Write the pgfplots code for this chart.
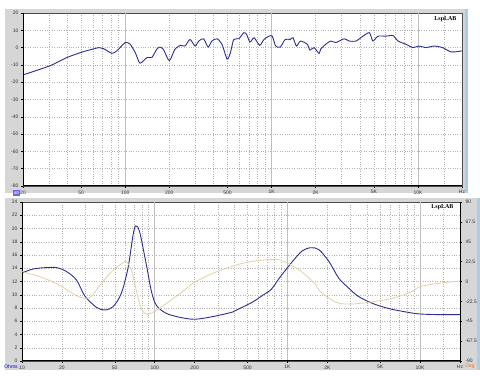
\documentclass[border=0pt]{standalone}
\usepackage{fontspec}
\setmainfont{Liberation Sans}
\newfontfamily\serifb{Liberation Serif}
\usepackage{pgfplots}
\pgfplotsset{compat=1.18}
\definecolor{panel}{RGB}{214,214,214}
\definecolor{zblue}{RGB}{45,45,150}
\definecolor{ptan}{RGB}{226,206,162}
\definecolor{lblue}{RGB}{170,205,232}
\definecolor{dorange}{RGB}{230,120,40}
\pgfplotsset{
 rsbase/.style={
  grid=both,
  major grid style={dotted, black!30},
  minor grid style={dotted, black!30},
  tick style={black, thin},
  major tick length=2pt, minor tick length=1.5pt,
  tick align=outside, xtick pos=bottom, ytick pos=left,
  tick label style={font=\fontsize{5}{6}\selectfont, text=black!80},
  axis background/.style={fill=white},
  axis line style={black!70, thin},
  xticklabel style={yshift=1pt},
  yticklabel style={xshift=1pt},
 }
}
\begin{document}
\begin{tikzpicture}
\useasboundingbox (0pt,0pt) rectangle (480pt,385pt);
\fill[white] (0pt,0pt) rectangle (480pt,385pt);
% panels
\fill[panel] (5pt,192pt) rectangle (465pt,376pt);
\fill[lblue] (465pt,192pt) rectangle (468pt,376pt);
\fill[panel] (5pt,15pt) rectangle (480pt,187pt);
\fill[lblue] (477pt,15pt) rectangle (480pt,187pt);

% ---------- Top: frequency response ----------
\begin{axis}[rsbase, scale only axis, xmode=log,
  /pgf/number format/assume math mode=true,
  at={(23pt,199pt)}, anchor=south west,
  width=439pt, height=173pt,
  xmin=20, xmax=20000, ymin=-80, ymax=20,
  ytick={-80,-70,...,20},
  xtick={20,50,100,200,500,1000,2000,5000,10000,20000},
  xticklabels={20,50,100,200,500,1K,2K,5K,10K,Hz},
  minor xtick={30,40,60,70,80,90,300,400,600,700,800,900,3000,4000,6000,7000,8000,9000,15000},
  extra x ticks={100,1000,10000},
  extra x tick labels={},
  extra x tick style={major grid style={solid, black!25}},
]
\addplot[zblue, line width=0.9pt, smooth, tension=0.4] coordinates {
(20,-15.8)(30.6,-10.5)(40,-5.7)(52,-2.3)(66,0)(71,-0.6)(81,-3.3)(87.5,-1.9)
(100,2.9)(108,1.9)(117,-2.9)(126,-9)(141,-5.7)(152,-5.7)(164,-1)(172,0.3)
(182,-1)(200,-7.6)(218,-1)(238,1.3)(256,0.9)(277,4.7)(300,0.9)(318,3.8)
(343,5.1)(368,0.3)(391,3.8)(424,5.1)(458,1.9)(497,-6.7)(523,-2.9)(551,4.7)
(597,5.1)(646,8.6)(675,7.6)(711,3.2)(759,5.7)(829,1.3)(887,4.7)(958,6.6)
(1010,6.6)(1066,0.9)(1145,0.3)(1240,4.7)(1342,4.7)(1400,5.7)(1477,0.9)
(1576,3.8)(1753,1.9)(1826,-1.4)(1950,0)(2110,-3.4)(2160,-1)(2340,1.9)
(2540,3.8)(2750,2.9)(3130,5.1)(3390,3.8)(3780,3.8)(4200,6.6)(4660,8.6)
(4920,3.8)(5330,6.6)(6070,6.6)(6750,7)(7310,3.8)(8300,1.9)(9230,0)
(10200,0.9)(11300,0)(12900,0.9)(14700,0)(16800,-2.5)(18600,-2.3)(20000,-1.9)
};
\draw[black, line width=1pt] (rel axis cs:0,1) -- (rel axis cs:0,0) -- (rel axis cs:1,0);
\end{axis}
\node[font=\serifb\bfseries\fontsize{6}{7}\selectfont, anchor=east] at (460pt,366pt) {LspLAB};
\fill[blue!60] (13pt,189pt) rectangle (20pt,195pt);
\node[font=\fontsize{4}{5}\selectfont, text=white, inner sep=0pt] at (16.5pt,192pt) {dB};

% ---------- Bottom: impedance ----------
\begin{axis}[rsbase, scale only axis, xmode=log,
  /pgf/number format/assume math mode=true,
  at={(22pt,24pt)}, anchor=south west,
  width=438pt, height=159pt,
  xmin=10, xmax=20000, ymin=0, ymax=24,
  ytick={0,2,...,24},
  xtick={10,20,50,100,200,500,1000,2000,5000,10000,20000},
  xticklabels={10,20,50,100,200,500,1K,2K,5K,10K,Hz},
  minor xtick={30,40,60,70,80,90,300,400,600,700,800,900,3000,4000,6000,7000,8000,9000,15000},
  extra x ticks={100,1000,10000},
  extra x tick labels={},
  extra x tick style={major grid style={solid, black!25}},
]
\addplot[zblue, line width=0.9pt, smooth, tension=0.5] coordinates {
(10,13.3)(12.2,13.9)(15.3,14.1)(18.2,14.1)(21.7,13.5)(25.8,12.2)(29.8,9.8)
(36.4,8.1)(42,7.7)(48.6,8.2)(56,10.2)(62.9,14)(68.7,19)(71.9,20.4)(77,19.5)
(86.6,14.5)(94.5,10.5)(103,8.4)(122,7.2)(154,6.6)(200,6.3)(274,6.7)(388,7.4)
(435,7.9)(547,8.9)(650,9.9)(755,10.8)(869,12.5)(1090,15)(1290,16.6)(1500,17.1)
(1730,16.8)(2060,15)(2440,12.5)(2900,11)(3400,9.8)(4370,8.7)(5860,7.9)
(7830,7.4)(9900,7.1)(13800,7)(20000,7)
};
\draw[black, line width=1pt] (rel axis cs:0,1) -- (rel axis cs:0,0) -- (rel axis cs:1,0);
\end{axis}
\begin{axis}[
  scale only axis, xmode=log,
  /pgf/number format/assume math mode=true,
  at={(22pt,24pt)}, anchor=south west,
  width=438pt, height=159pt,
  xmin=10, xmax=20000, ymin=-90, ymax=90,
  axis y line*=right, axis x line=none,
  ytick={-90,-67.5,-45,-22.5,0,22.5,45,67.5,90},
  yticklabels={-90,-67.5,-45,-22.5,0,22.5,45,67.5,90},
  tick style={black, thin}, major tick length=2pt, tick align=outside,
  tick label style={font=\fontsize{5}{6}\selectfont, text=black!80},
  axis line style={black, line width=1pt},
]
\addplot[ptan, line width=0.75pt, smooth, tension=0.5] coordinates {
(10,11.2)(13.7,5.3)(18.2,-2.3)(23,-11.5)(26.5,-17)(29.8,-19)(33,-17.5)(38.5,-5)
(45.8,9)(56,20)(61,22.5)(66.8,13)(72,-7.5)(79,-30)(86.6,-37)(100,-34)(122,-25)
(162,-11.5)(194,-2)(258,7.5)(346,15)(460,20.6)(578,23.3)(776,25)(922,23.3)
(1230,13)(1600,-2)(1730,-10)(2060,-19)(2440,-24.5)(3080,-25.5)(4370,-23)
(6200,-19)(8690,-11.5)(9900,-6)(13800,-2)(20000,0.5)
};
\end{axis}
\node[font=\serifb\bfseries\fontsize{6}{7}\selectfont, anchor=east] at (457pt,178pt) {LspLAB};
\node[font=\fontsize{5}{6}\selectfont, text=blue!80!black, inner sep=0pt] at (11pt,18.5pt) {Ohms};
\node[font=\fontsize{5}{6}\selectfont, text=dorange, inner sep=0pt] at (470pt,18.5pt) {Deg};
\end{tikzpicture}
\end{document}
